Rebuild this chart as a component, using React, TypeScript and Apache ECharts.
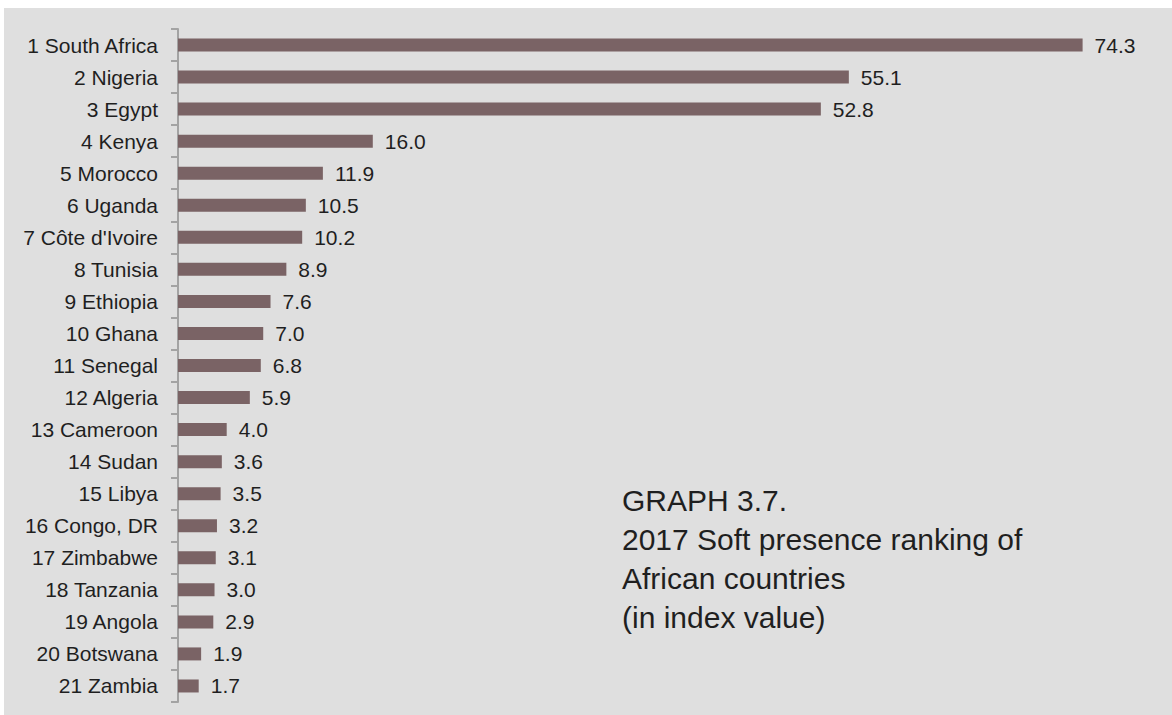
import React, { useEffect, useRef } from "react";
import * as echarts from "echarts";

const categories = [
  "1 South Africa", "2 Nigeria", "3 Egypt", "4 Kenya", "5 Morocco", "6 Uganda",
  "7 Côte d'Ivoire", "8 Tunisia", "9 Ethiopia", "10 Ghana", "11 Senegal",
  "12 Algeria", "13 Cameroon", "14 Sudan", "15 Libya", "16 Congo, DR",
  "17 Zimbabwe", "18 Tanzania", "19 Angola", "20 Botswana", "21 Zambia",
];
const values = [
  74.3, 55.1, 52.8, 16.0, 11.9, 10.5, 10.2, 8.9, 7.6, 7.0, 6.8, 5.9, 4.0, 3.6,
  3.5, 3.2, 3.1, 3.0, 2.9, 1.9, 1.7,
];
const titleLines = [
  "GRAPH 3.7.",
  "2017 Soft presence ranking of",
  "African countries",
  "(in index value)",
];

const FONT = "'Liberation Sans', Arial, Helvetica, sans-serif";

export default function App() {
  const ref = useRef<HTMLDivElement>(null);
  useEffect(() => {
    document.body.style.margin = "0";
    if (!ref.current) return;
    const chart = echarts.init(ref.current, null, { renderer: "svg" });
    chart.setOption({
      animation: false,
      backgroundColor: "#ffffff",
      graphic: [
        {
          type: "rect",
          z: -10,
          silent: true,
          shape: { x: 4, y: 8, width: 1168, height: 707 },
          style: { fill: "#dfdfdf" },
        },
        {
          type: "text",
          left: 622,
          top: 481,
          style: {
            text: titleLines.join("\n"),
            fontFamily: FONT,
            fontSize: 30,
            lineHeight: 39,
            fill: "#1f1f1f",
          },
        },
      ],
      grid: { left: 178, top: 29, width: 974, height: 673 },
      xAxis: {
        type: "value",
        min: 0,
        max: 80,
        show: false,
      },
      yAxis: {
        type: "category",
        data: categories,
        inverse: true,
        axisLine: { show: true, lineStyle: { color: "#a3a3a3", width: 2 } },
        axisTick: { show: true, length: 7, lineStyle: { color: "#a3a3a3", width: 2 } },
        axisLabel: {
          margin: 20,
          fontFamily: FONT,
          fontSize: 21,
          color: "#1f1f1f",
        },
        splitLine: { show: false },
      },
      series: [
        {
          type: "bar",
          data: values,
          barWidth: 13,
          itemStyle: { color: "#7a6365" },
          label: {
            show: true,
            position: "right",
            distance: 12,
            fontFamily: FONT,
            fontSize: 21,
            color: "#1f1f1f",
            formatter: (p: any) => Number(p.value).toFixed(1),
          },
        },
      ],
    });
    return () => chart.dispose();
  }, []);
  return <div ref={ref} style={{ width: 1172, height: 715 }} />;
}
